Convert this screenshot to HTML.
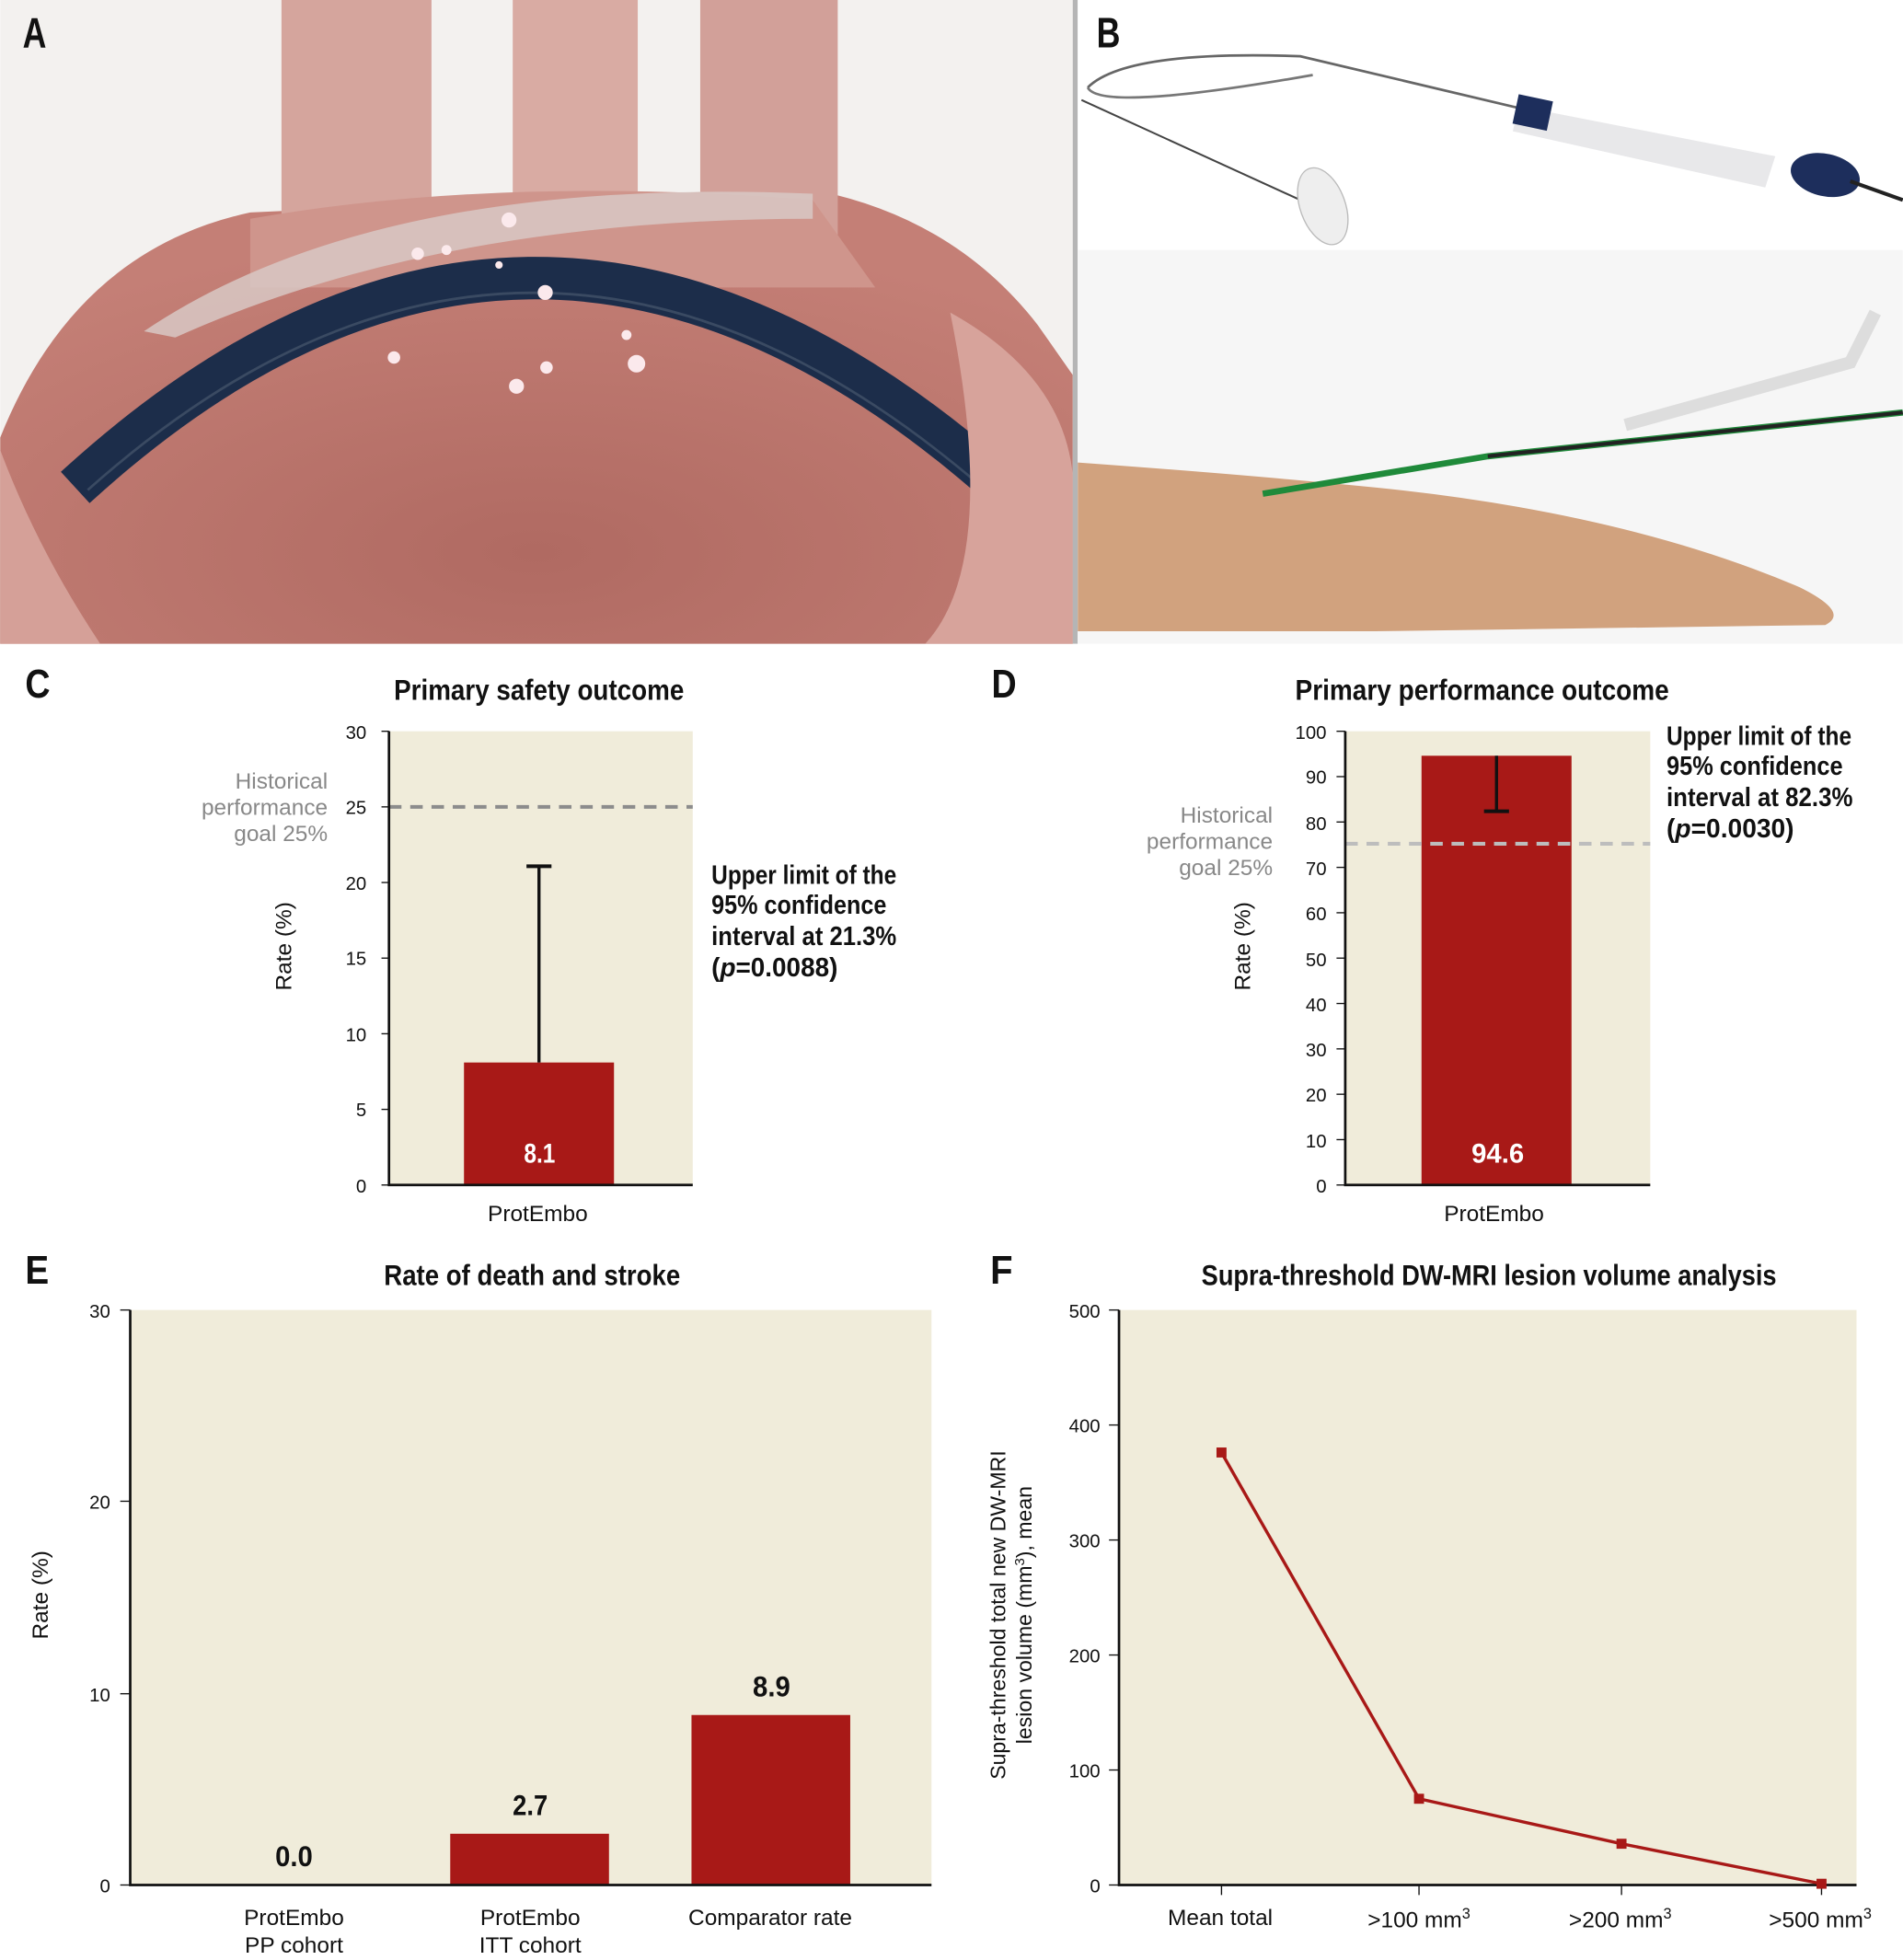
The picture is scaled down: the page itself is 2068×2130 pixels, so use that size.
<!DOCTYPE html>
<html><head><meta charset="utf-8"><style>
html,body{margin:0;padding:0;background:#fff;}
svg{display:block;}
.t{font-family:"Liberation Sans",sans-serif;font-weight:bold;}
.n{font-family:"Liberation Sans",sans-serif;}
.s{font-family:"Liberation Sans",sans-serif;}
</style></head><body>
<svg width="2068" height="2130" viewBox="0 0 1522 1568" xmlns="http://www.w3.org/2000/svg">
<defs>
<radialGradient id="hrt" cx="0.5" cy="0.8" r="0.7"><stop offset="0" stop-color="#b06a62"/><stop offset="1" stop-color="#c47f76"/></radialGradient>
</defs>
<!-- Panel A -->
<rect x="0" y="0" width="858" height="515" fill="#f3f1ef"/>
<path d="M0 350 Q60 200 200 170 L640 150 Q760 170 830 260 L858 300 L858 515 L0 515Z" fill="url(#hrt)"/>
<rect x="225" y="0" width="120" height="200" fill="#d5a59d"/>
<rect x="410" y="0" width="100" height="200" fill="#d9aba3"/>
<rect x="560" y="0" width="110" height="200" fill="#d2a099"/>
<path d="M200 175 Q400 140 650 160 L700 230 L200 230Z" fill="#cf958c"/>
<path d="M60 390 Q420 60 790 380" fill="none" stroke="#1c2d4a" stroke-width="34"/>
<path d="M70 392 Q420 80 780 385" fill="none" stroke="#3a4a62" stroke-width="2"/>
<path d="M115 265 Q300 140 650 155 L650 175 Q350 175 140 270Z" fill="#d8c8c4" opacity="0.85"/>
<path d="M0 360 L0 515 L80 515 Q30 440 0 360Z" fill="#d5a098"/>
<path d="M760 250 Q850 300 858 380 L858 515 L740 515 Q800 450 760 250Z" fill="#d7a39b"/>
<g fill="#fbe9ec"><circle cx="407" cy="176" r="6"/><circle cx="334" cy="203" r="5"/><circle cx="357" cy="200" r="4"/><circle cx="436" cy="234" r="6"/><circle cx="315" cy="286" r="5"/><circle cx="509" cy="291" r="7"/><circle cx="413" cy="309" r="6"/><circle cx="437" cy="294" r="5"/><circle cx="501" cy="268" r="4"/><circle cx="399" cy="212" r="3"/></g>
<text x="18" y="38" class="t" font-size="34" fill="#111" textLength="19" lengthAdjust="spacingAndGlyphs">A</text>
<rect x="858" y="0" width="4" height="515" fill="#b5b5b5"/>
<!-- Panel B -->
<rect x="862" y="0" width="660" height="515" fill="#ffffff"/>
<rect x="862" y="200" width="660" height="315" fill="#f6f6f6"/>
<path d="M870 70 Q900 40 1040 45 L1230 90" fill="none" stroke="#666" stroke-width="2"/>
<path d="M870 70 Q880 90 1050 60" fill="none" stroke="#777" stroke-width="2"/>
<path d="M865 80 L1040 160" fill="none" stroke="#444" stroke-width="1.5"/>
<ellipse cx="1058" cy="165" rx="18" ry="32" fill="#eee" stroke="#bbb" transform="rotate(-20 1058 165)"/>
<path d="M1215 85 L1420 125 L1412 150 L1210 105Z" fill="#e8e8ea"/>
<rect x="1212" y="78" width="28" height="24" fill="#1d2e5c" transform="rotate(12 1226 90)"/>
<ellipse cx="1460" cy="140" rx="28" ry="17" fill="#1d2e5c" transform="rotate(12 1460 140)"/>
<path d="M1480 145 L1522 160" stroke="#222" stroke-width="3"/>
<path d="M862 370 Q1000 380 1100 390 Q1300 410 1440 470 Q1480 490 1460 500 L1100 505 L862 505Z" fill="#d1a27e"/>
<path d="M1010 395 L1190 365 L1522 330" stroke="#1f8a3a" stroke-width="5" fill="none"/>
<path d="M1190 365 L1522 330" stroke="#222" stroke-width="3"/>
<path d="M1300 340 L1480 290 L1500 250" stroke="#ddd" stroke-width="10" fill="none"/>
<text x="877" y="38" class="t" font-size="34" fill="#111" textLength="19" lengthAdjust="spacingAndGlyphs">B</text>
<!-- Panel C -->
<text x="20" y="558" class="t" font-size="32" fill="#111" textLength="20" lengthAdjust="spacingAndGlyphs">C</text>
<text x="315" y="560" class="t" font-size="23" fill="#111" textLength="232" lengthAdjust="spacingAndGlyphs">Primary safety outcome</text>
<rect x="311" y="585" width="243" height="363" fill="#f0ecda"/>
<line x1="311" y1="645.5" x2="554" y2="645.5" stroke="#8c8c8c" stroke-width="3" stroke-dasharray="10,7"/>
<rect x="371" y="850" width="120" height="98" fill="#a81917"/>
<line x1="431" y1="850" x2="431" y2="693" stroke="#111" stroke-width="2.5"/>
<line x1="421" y1="693" x2="441" y2="693" stroke="#111" stroke-width="3"/>
<text x="419" y="930" class="t" font-size="22" fill="#fff" textLength="25" lengthAdjust="spacingAndGlyphs">8.1</text>
<path d="M311 585 V948 H554" fill="none" stroke="#111" stroke-width="2"/>
<g class="n" font-size="15" fill="#111" text-anchor="end">
<line x1="305" y1="585" x2="311" y2="585" stroke="#111"/><text x="293" y="591">30</text>
<line x1="305" y1="645.5" x2="311" y2="645.5" stroke="#111"/><text x="293" y="651">25</text>
<line x1="305" y1="706" x2="311" y2="706" stroke="#111"/><text x="293" y="712">20</text>
<line x1="305" y1="766.5" x2="311" y2="766.5" stroke="#111"/><text x="293" y="772">15</text>
<line x1="305" y1="827" x2="311" y2="827" stroke="#111"/><text x="293" y="833">10</text>
<line x1="305" y1="887.5" x2="311" y2="887.5" stroke="#111"/><text x="293" y="893">5</text>
<line x1="305" y1="948" x2="311" y2="948" stroke="#111"/><text x="293" y="954">0</text>
</g>
<text x="233" y="757" class="s" font-size="18" fill="#111" text-anchor="middle" transform="rotate(-90 233 757)">Rate (%)</text>
<g class="s" font-size="18" fill="#888" text-anchor="end"><text x="262" y="631">Historical</text><text x="262" y="652">performance</text><text x="262" y="673">goal 25%</text></g>
<text x="430" y="977" class="s" font-size="18" fill="#111" text-anchor="middle">ProtEmbo</text>
<g class="t" font-size="21" fill="#111" lengthAdjust="spacingAndGlyphs"><text x="569" y="707" textLength="148" lengthAdjust="spacingAndGlyphs">Upper limit of the</text><text x="569" y="731" textLength="140" lengthAdjust="spacingAndGlyphs">95% confidence</text><text x="569" y="756" textLength="148" lengthAdjust="spacingAndGlyphs">interval at 21.3%</text><text x="569" y="781" textLength="101" lengthAdjust="spacingAndGlyphs">(<tspan font-style="italic">p</tspan>=0.0088)</text></g>
<!-- Panel D -->
<text x="793" y="558" class="t" font-size="32" fill="#111" textLength="20" lengthAdjust="spacingAndGlyphs">D</text>
<text x="1036" y="560" class="t" font-size="23" fill="#111" textLength="299" lengthAdjust="spacingAndGlyphs">Primary performance outcome</text>
<rect x="1076" y="585" width="244" height="363" fill="#f0ecda"/>
<rect x="1137" y="604.6" width="120" height="343.4" fill="#a81917"/>
<line x1="1076" y1="675" x2="1320" y2="675" stroke="#bdbdbd" stroke-width="3" stroke-dasharray="10,7"/>
<line x1="1197" y1="604.6" x2="1197" y2="649" stroke="#111" stroke-width="2.5"/>
<line x1="1187" y1="649" x2="1207" y2="649" stroke="#111" stroke-width="3"/>
<text x="1177" y="930" class="t" font-size="22" fill="#fff" textLength="42" lengthAdjust="spacingAndGlyphs">94.6</text>
<path d="M1076 585 V948 H1320" fill="none" stroke="#111" stroke-width="2"/>
<g class="n" font-size="15" fill="#111" text-anchor="end">
<text x="1061" y="591">100</text><text x="1061" y="627">90</text><text x="1061" y="664">80</text><text x="1061" y="700">70</text><text x="1061" y="736">60</text><text x="1061" y="773">50</text><text x="1061" y="809">40</text><text x="1061" y="845">30</text><text x="1061" y="881">20</text><text x="1061" y="918">10</text><text x="1061" y="954">0</text>
</g>
<g stroke="#111"><line x1="1069" y1="585" x2="1076" y2="585"/><line x1="1069" y1="621.3" x2="1076" y2="621.3"/><line x1="1069" y1="657.6" x2="1076" y2="657.6"/><line x1="1069" y1="693.9" x2="1076" y2="693.9"/><line x1="1069" y1="730.2" x2="1076" y2="730.2"/><line x1="1069" y1="766.5" x2="1076" y2="766.5"/><line x1="1069" y1="802.8" x2="1076" y2="802.8"/><line x1="1069" y1="839.1" x2="1076" y2="839.1"/><line x1="1069" y1="875.4" x2="1076" y2="875.4"/><line x1="1069" y1="911.7" x2="1076" y2="911.7"/><line x1="1069" y1="948" x2="1076" y2="948"/></g>
<text x="1000" y="757" class="s" font-size="18" fill="#111" text-anchor="middle" transform="rotate(-90 1000 757)">Rate (%)</text>
<g class="s" font-size="18" fill="#888" text-anchor="end"><text x="1018" y="658">Historical</text><text x="1018" y="679">performance</text><text x="1018" y="700">goal 25%</text></g>
<text x="1195" y="977" class="s" font-size="18" fill="#111" text-anchor="middle">ProtEmbo</text>
<g class="t" font-size="21" fill="#111"><text x="1333" y="596" textLength="148" lengthAdjust="spacingAndGlyphs">Upper limit of the</text><text x="1333" y="620" textLength="141" lengthAdjust="spacingAndGlyphs">95% confidence</text><text x="1333" y="645" textLength="149" lengthAdjust="spacingAndGlyphs">interval at 82.3%</text><text x="1333" y="670" textLength="102" lengthAdjust="spacingAndGlyphs">(<tspan font-style="italic">p</tspan>=0.0030)</text></g>
<!-- Panel E -->
<text x="20" y="1027" class="t" font-size="32" fill="#111" textLength="19" lengthAdjust="spacingAndGlyphs">E</text>
<text x="307" y="1028" class="t" font-size="23" fill="#111" textLength="237" lengthAdjust="spacingAndGlyphs">Rate of death and stroke</text>
<rect x="104" y="1048" width="641" height="460" fill="#f0ecda"/>
<rect x="360" y="1467" width="127" height="41" fill="#a81917"/>
<rect x="553" y="1372" width="127" height="136" fill="#a81917"/>
<path d="M104 1048 V1508 H745" fill="none" stroke="#111" stroke-width="2"/>
<g stroke="#111"><line x1="96" y1="1048" x2="104" y2="1048"/><line x1="96" y1="1201" x2="104" y2="1201"/><line x1="96" y1="1355" x2="104" y2="1355"/><line x1="96" y1="1508" x2="104" y2="1508"/></g>
<g class="n" font-size="15" fill="#111" text-anchor="end"><text x="88" y="1054">30</text><text x="88" y="1207">20</text><text x="88" y="1361">10</text><text x="88" y="1514">0</text></g>
<text x="38" y="1276" class="s" font-size="18" fill="#111" text-anchor="middle" transform="rotate(-90 38 1276)">Rate (%)</text>
<g class="t" font-size="23" fill="#111"><text x="220" y="1493" textLength="30" lengthAdjust="spacingAndGlyphs">0.0</text><text x="410" y="1452" textLength="28" lengthAdjust="spacingAndGlyphs">2.7</text><text x="602" y="1357" textLength="30" lengthAdjust="spacingAndGlyphs">8.9</text></g>
<g class="s" font-size="18" fill="#111" text-anchor="middle"><text x="235" y="1540">ProtEmbo</text><text x="235" y="1562">PP cohort</text><text x="424" y="1540">ProtEmbo</text><text x="424" y="1562">ITT cohort</text><text x="616" y="1540">Comparator rate</text></g>
<!-- Panel F -->
<text x="792" y="1027" class="t" font-size="32" fill="#111" textLength="18" lengthAdjust="spacingAndGlyphs">F</text>
<text x="961" y="1028" class="t" font-size="23" fill="#111" textLength="460" lengthAdjust="spacingAndGlyphs">Supra-threshold DW-MRI lesion volume analysis</text>
<rect x="895" y="1048" width="590" height="460" fill="#f0ecda"/>
<path d="M895 1048 V1508 H1485" fill="none" stroke="#111" stroke-width="2"/>
<g stroke="#111"><line x1="887" y1="1048" x2="895" y2="1048"/><line x1="887" y1="1140" x2="895" y2="1140"/><line x1="887" y1="1232" x2="895" y2="1232"/><line x1="887" y1="1324" x2="895" y2="1324"/><line x1="887" y1="1416" x2="895" y2="1416"/><line x1="887" y1="1508" x2="895" y2="1508"/>
<line x1="977" y1="1508" x2="977" y2="1516"/><line x1="1135" y1="1508" x2="1135" y2="1516"/><line x1="1297" y1="1508" x2="1297" y2="1516"/><line x1="1457" y1="1508" x2="1457" y2="1516"/></g>
<g class="n" font-size="15" fill="#111" text-anchor="end"><text x="880" y="1054">500</text><text x="880" y="1146">400</text><text x="880" y="1238">300</text><text x="880" y="1330">200</text><text x="880" y="1422">100</text><text x="880" y="1514">0</text></g>
<g class="s" font-size="17" fill="#111" text-anchor="middle" transform="rotate(-90 810 1292)"><text x="810" y="1286">Supra-threshold total new DW-MRI</text><text x="810" y="1307">lesion volume (mm<tspan font-size="11" dy="-6">3</tspan><tspan dy="6">), mean</tspan></text></g>
<polyline points="977,1162 1135,1439 1297,1475 1457,1507" fill="none" stroke="#a81917" stroke-width="2.5"/>
<g fill="#a81917"><rect x="973" y="1158" width="8" height="8"/><rect x="1131" y="1435" width="8" height="8"/><rect x="1293" y="1471" width="8" height="8"/><rect x="1453" y="1503" width="8" height="8"/></g>
<g class="s" font-size="18" fill="#111" text-anchor="middle"><text x="976" y="1540">Mean total</text><text x="1135" y="1542">&gt;100 mm<tspan font-size="12" dy="-7">3</tspan></text><text x="1296" y="1542">&gt;200 mm<tspan font-size="12" dy="-7">3</tspan></text><text x="1456" y="1542">&gt;500 mm<tspan font-size="12" dy="-7">3</tspan></text></g>
</svg>
</body></html>
